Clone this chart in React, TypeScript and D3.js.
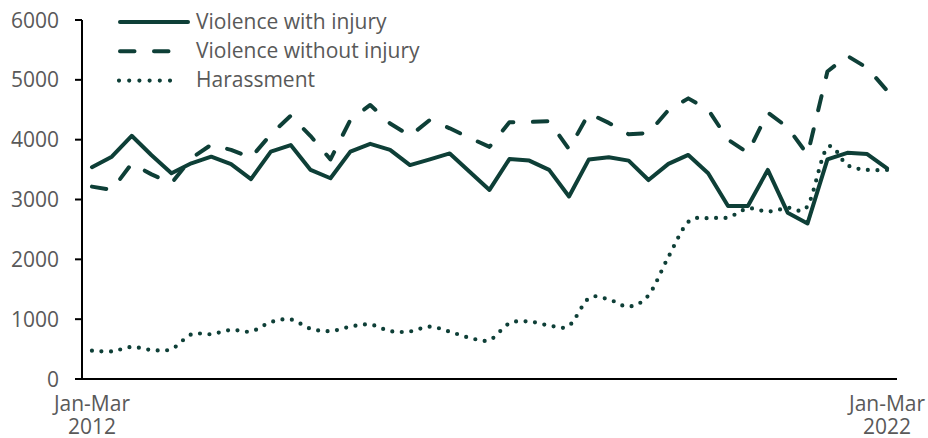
import React from "react";
import * as d3 from "d3";

const quarters = [
  "Jan-Mar 2012","Apr-Jun 2012","Jul-Sep 2012","Oct-Dec 2012",
  "Jan-Mar 2013","Apr-Jun 2013","Jul-Sep 2013","Oct-Dec 2013",
  "Jan-Mar 2014","Apr-Jun 2014","Jul-Sep 2014","Oct-Dec 2014",
  "Jan-Mar 2015","Apr-Jun 2015","Jul-Sep 2015","Oct-Dec 2015",
  "Jan-Mar 2016","Apr-Jun 2016","Jul-Sep 2016","Oct-Dec 2016",
  "Jan-Mar 2017","Apr-Jun 2017","Jul-Sep 2017","Oct-Dec 2017",
  "Jan-Mar 2018","Apr-Jun 2018","Jul-Sep 2018","Oct-Dec 2018",
  "Jan-Mar 2019","Apr-Jun 2019","Jul-Sep 2019","Oct-Dec 2019",
  "Jan-Mar 2020","Apr-Jun 2020","Jul-Sep 2020","Oct-Dec 2020",
  "Jan-Mar 2021","Apr-Jun 2021","Jul-Sep 2021","Oct-Dec 2021",
  "Jan-Mar 2022",
];

const violenceWithInjury = [
  3540, 3715, 4065, 3740, 3440, 3605, 3715, 3590, 3340, 3800, 3910, 3495, 3355, 3800,
  3930, 3830, 3575, 3670, 3770, 3465, 3160, 3675, 3650, 3495, 3050, 3670, 3705, 3650,
  3325, 3595, 3745, 3440, 2890, 2890, 3495, 2780, 2600, 3670, 3780, 3760, 3520,
];

const violenceWithoutInjury = [
  3215, 3160, 3600, 3420, 3270, 3690, 3915, 3830, 3700, 4090, 4400, 4060, 3670, 4330,
  4580, 4270, 4065, 4330, 4190, 4030, 3880, 4290, 4295, 4310, 3840, 4440, 4280, 4090,
  4110, 4495, 4690, 4500, 4000, 3780, 4455, 4205, 3750, 5140, 5400, 5200, 4820,
];

const harassment = [
  473, 462, 535, 485, 500, 745, 750, 820, 795, 950, 995, 840, 800, 875,
  910, 800, 795, 875, 790, 690, 650, 930, 960, 895, 890, 1350, 1330, 1210,
  1400, 2040, 2625, 2690, 2700, 2850, 2800, 2860, 2890, 3870, 3575, 3495, 3495,
];

const yTicks = [0, 1000, 2000, 3000, 4000, 5000, 6000];
const xLabelQuarters = ["Jan-Mar 2012", "Jan-Mar 2022"];
const seriesNames = ["Violence with injury", "Violence without injury", "Harassment"];

const COLOR = "#0e3f37";
const TEXT = "#595959";
const FONT = "'Open Sans', sans-serif";
const FS = 21;

export default function App() {
  const W = 928, H = 438;
  const x = d3.scaleBand<string>().domain(quarters).range([82, 897]).padding(0);
  const cx = (q: string) => (x(q) as number) + x.bandwidth() / 2;
  const y = d3.scaleLinear().domain([0, 6000]).range([379, 20]);

  const straight = d3.line<number>().x((_, i) => cx(quarters[i])).y((d) => y(d));
  const smooth = d3
    .line<number>()
    .x((_, i) => cx(quarters[i]))
    .y((d) => y(d))
    .curve(d3.curveCardinal.tension(0));

  const styles = [
    { dash: undefined as string | undefined, width: 4 },
    { dash: "14.5 19.5", width: 4 },
    { dash: "0 9.5", width: 4.2 },
  ];
  const series = [violenceWithInjury, violenceWithoutInjury, harassment];
  const gens = [straight, straight, smooth];

  return (
    <svg width={W} height={H} style={{ position: "absolute", left: 0, top: 0, background: "#fff" }}>
      {/* Y axis */}
      <line x1={82} x2={82} y1={y(6000)} y2={y(0)} stroke="#000" strokeWidth={2} />
      {yTicks.map((t) => (
        <g key={t}>
          <line x1={75} x2={82} y1={y(t)} y2={y(t)} stroke="#000" strokeWidth={2} />
          <text x={59} y={y(t)} dy="0.36em" textAnchor="end" fontFamily={FONT} fontSize={FS} fill={TEXT}>
            {t}
          </text>
        </g>
      ))}
      {/* X axis */}
      <line x1={75} x2={897} y1={y(0)} y2={y(0)} stroke="#000" strokeWidth={2} />
      {xLabelQuarters.map((q) => {
        const [a, b] = q.split(" ");
        return (
          <text key={q} x={cx(q)} textAnchor="middle" fontFamily={FONT} fontSize={FS} fill={TEXT}>
            <tspan x={cx(q)} y={411}>{a}</tspan>
            <tspan x={cx(q)} y={434}>{b}</tspan>
          </text>
        );
      })}
      {/* Lines */}
      {series.map((s, k) => (
        <path
          key={k}
          d={gens[k](s) as string}
          fill="none"
          stroke={COLOR}
          strokeWidth={styles[k].width}
          strokeDasharray={styles[k].dash}
          strokeLinecap="round"
          strokeLinejoin="round"
        />
      ))}
      {/* Legend */}
      {seriesNames.map((n, k) => {
        const base = 28.5 + k * 29.3;
        return (
          <g key={n}>
            <line
              x1={k === 2 ? 119 : 120}
              x2={k === 2 ? 180 : 188}
              y1={base - 6.5}
              y2={base - 6.5}
              stroke={COLOR}
              strokeWidth={styles[k].width}
              strokeDasharray={k === 2 ? "0 10.2" : styles[k].dash}
              strokeLinecap="round"
            />
            <text x={196} y={base} fontFamily={FONT} fontSize={FS} fill={TEXT}>
              {n}
            </text>
          </g>
        );
      })}
    </svg>
  );
}
